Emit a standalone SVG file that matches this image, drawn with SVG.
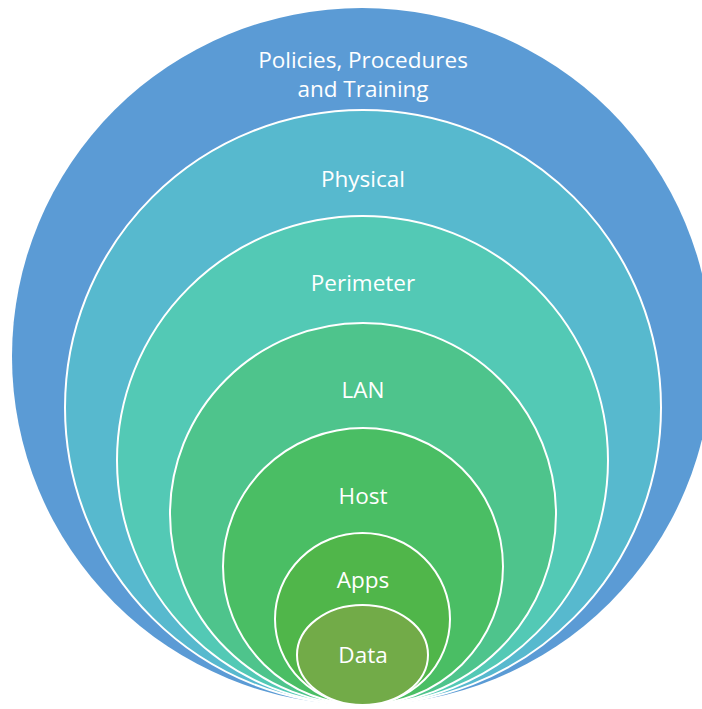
<svg xmlns="http://www.w3.org/2000/svg" width="702" height="709" viewBox="0 0 702 709">
<style>
.ring{stroke:#FFFFFF;stroke-width:2}
.lbl{font-family:"Open Sans","Liberation Sans",sans-serif;font-size:22.5px;fill:#FFFFFF;text-anchor:middle}
</style>
<rect width="702" height="709" fill="#FFFFFF"/>
<g id="policies">
<ellipse cx="362" cy="356.5" rx="350" ry="348.5" fill="#5B9BD5"/>
<text class="lbl" x="363" y="68">Policies, Procedures</text>
<text class="lbl" x="363" y="97">and Training</text>
</g>
<g id="physical">
<ellipse class="ring" cx="363" cy="407.5" rx="298" ry="297.5" fill="#57B9CE"/>
<text class="lbl" x="363" y="187">Physical</text>
</g>
<g id="perimeter">
<ellipse class="ring" cx="362.5" cy="460.5" rx="245.5" ry="244.5" fill="#53C9B5"/>
<text class="lbl" x="363" y="291">Perimeter</text>
</g>
<g id="lan">
<ellipse class="ring" cx="363" cy="514" rx="193" ry="191" fill="#4EC48C"/>
<text class="lbl" x="363" y="398">LAN</text>
</g>
<g id="host">
<ellipse class="ring" cx="363" cy="566.5" rx="140" ry="138.5" fill="#4ABE64"/>
<text class="lbl" x="363" y="504">Host</text>
</g>
<g id="apps">
<ellipse class="ring" cx="362.5" cy="619" rx="87.5" ry="86" fill="#50B64A"/>
<text class="lbl" x="363" y="588">Apps</text>
</g>
<g id="data">
<ellipse class="ring" cx="362.5" cy="655" rx="65.5" ry="50" fill="#72AB48"/>
<text class="lbl" x="363" y="663">Data</text>
</g>
<g id="connectors"></g>
</svg>
